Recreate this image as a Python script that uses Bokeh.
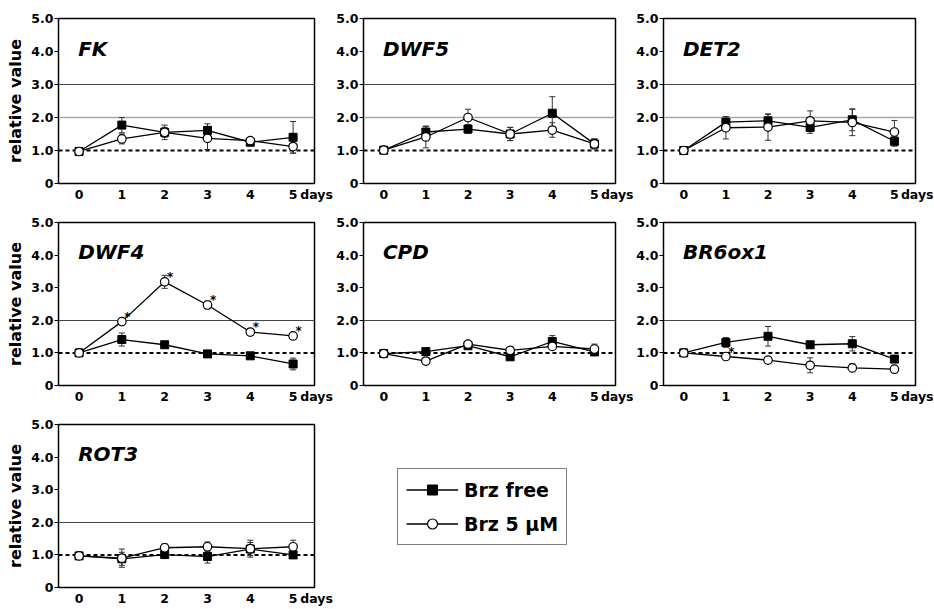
from bokeh.plotting import figure
from bokeh.models import (ColumnDataSource, FixedTicker, Span, Label, Whisker, Range1d,
                          Legend, LegendItem, TeeHead)
from bokeh.layouts import column, row
from bokeh.embed import file_html
from bokeh.resources import INLINE
from bokeh.core.properties import value

# ---------------- data ----------------
days = [0, 1, 2, 3, 4, 5]
x_labels = ["0", "1", "2", "3", "4", "5"]
unit_label = "\u00a0days"
y_ticks = [0, 1, 2, 3, 4, 5]
y_labels = ["0", "1.0", "2.0", "3.0", "4.0", "5.0"]
genes = ["FK", "DWF5", "DET2", "DWF4", "CPD", "BR6ox1", "ROT3"]
series_names = ["Brz free", "Brz 5 μM"]

fk_free = [0.97, 1.77, 1.55, 1.61, 1.25, 1.40]
fk_free_err = [0.03, 0.23, 0.15, 0.20, 0.05, 0.48]
fk_brz = [0.97, 1.35, 1.55, 1.37, 1.30, 1.12]
fk_brz_err = [0.03, 0.15, 0.22, 0.34, 0.05, 0.20]

dwf5_free = [1.01, 1.56, 1.65, 1.50, 2.13, 1.20]
dwf5_free_err = [0.02, 0.17, 0.13, 0.20, 0.50, 0.15]
dwf5_brz = [1.01, 1.41, 2.00, 1.50, 1.62, 1.20]
dwf5_brz_err = [0.02, 0.33, 0.25, 0.20, 0.22, 0.15]

det2_free = [1.00, 1.86, 1.90, 1.70, 1.93, 1.28]
det2_free_err = [0.02, 0.17, 0.20, 0.18, 0.33, 0.15]
det2_brz = [1.00, 1.69, 1.71, 1.90, 1.85, 1.56]
det2_brz_err = [0.02, 0.34, 0.40, 0.30, 0.40, 0.35]

dwf4_free = [1.00, 1.41, 1.25, 0.97, 0.91, 0.66]
dwf4_free_err = [0.02, 0.20, 0.10, 0.10, 0.05, 0.18]
dwf4_brz = [1.00, 1.96, 3.18, 2.47, 1.64, 1.52]
dwf4_brz_err = [0.02, 0.10, 0.20, 0.12, 0.10, 0.05]
dwf4_sig = [0, 1, 1, 1, 1, 1]

cpd_free = [0.98, 1.04, 1.22, 0.88, 1.35, 1.03]
cpd_free_err = [0.02, 0.08, 0.05, 0.06, 0.18, 0.08]
cpd_brz = [0.98, 0.75, 1.27, 1.08, 1.20, 1.12]
cpd_brz_err = [0.02, 0.10, 0.05, 0.05, 0.10, 0.15]

br6_free = [1.00, 1.32, 1.51, 1.25, 1.28, 0.81]
br6_free_err = [0.02, 0.15, 0.30, 0.10, 0.22, 0.08]
br6_brz = [1.00, 0.89, 0.78, 0.62, 0.54, 0.50]
br6_brz_err = [0.02, 0.05, 0.05, 0.23, 0.12, 0.10]
br6_sig = [0, 1, 0, 0, 0, 0]

rot3_free = [0.97, 0.88, 1.01, 0.95, 1.18, 1.00]
rot3_free_err = [0.02, 0.20, 0.05, 0.20, 0.20, 0.10]
rot3_brz = [0.97, 0.90, 1.22, 1.25, 1.19, 1.25]
rot3_brz_err = [0.02, 0.28, 0.12, 0.15, 0.26, 0.20]

no_sig = [0, 0, 0, 0, 0, 0]
# reference lines: (dark levels, light levels)
lines_row1 = ([3], [2])
lines_other = ([2], [])

FONT = "DejaVu Sans"
TICK_FS = "12.5px"
X_START, X_END = -0.48, 5.5


def make_panel(name, free, free_err, brz, brz_err, sig, ref_lines,
               width, height, left, right, top, bottom, ylabel):
    p = figure(width=width, height=height, x_range=Range1d(X_START, X_END),
               y_range=Range1d(0, 5), output_backend="svg", toolbar_location=None,
               min_border_left=left, min_border_right=right,
               min_border_top=top, min_border_bottom=bottom)
    p.background_fill_color = "white"
    p.border_fill_color = "white"
    p.outline_line_color = "black"
    p.outline_line_width = 1.5

    p.xgrid.visible = False
    dark, light = ref_lines
    p.ygrid.ticker = FixedTicker(ticks=dark)
    p.ygrid.grid_line_color = "#444444"
    p.ygrid.grid_line_width = 1
    for lv in light:
        p.add_layout(Span(location=lv, dimension="width", line_color="#a8a8a8",
                          line_width=1.5, level="underlay"))

    # x ticks; the unit word sits at the right end of the axis, after "5"
    p.xaxis.ticker = FixedTicker(ticks=days + [X_END])
    overrides = {d: l for d, l in zip(days, x_labels)}
    overrides[X_END] = unit_label
    p.xaxis.major_label_overrides = overrides
    p.yaxis.ticker = FixedTicker(ticks=y_ticks)
    p.yaxis.major_label_overrides = {t: l for t, l in zip(y_ticks, y_labels)}
    for ax in (p.xaxis, p.yaxis):
        ax.axis_line_color = None
        ax.minor_tick_line_color = None
        ax.major_label_text_font = FONT
        ax.major_label_text_font_style = "bold"
        ax.major_label_text_font_size = TICK_FS
        ax.major_label_text_color = "black"
        ax.major_tick_line_color = "black"
        ax.major_tick_in = 0
    p.xaxis.major_tick_out = 0
    p.xaxis.major_label_standoff = 3
    p.yaxis.major_tick_out = 4
    p.yaxis.major_label_standoff = 1
    if ylabel:
        p.yaxis.axis_label = "relative value"
        p.yaxis.axis_label_text_font = FONT
        p.yaxis.axis_label_text_font_style = "bold"
        p.yaxis.axis_label_text_font_size = "16px"
        p.yaxis.axis_label_text_color = "black"
        p.yaxis.axis_label_standoff = 3

    p.add_layout(Span(location=1.0, dimension="width", line_color="black",
                      line_width=2, line_dash="4 3", level="underlay"))

    src_f = ColumnDataSource(dict(x=days, y=free,
                                  lo=[v - e for v, e in zip(free, free_err)],
                                  up=[v + e for v, e in zip(free, free_err)]))
    src_b = ColumnDataSource(dict(x=days, y=brz,
                                  lo=[v - e for v, e in zip(brz, brz_err)],
                                  up=[v + e for v, e in zip(brz, brz_err)]))
    for src in (src_f, src_b):
        w = Whisker(source=src, base="x", lower="lo", upper="up",
                    line_color="#333333", line_width=1, level="underlay",
                    upper_head=TeeHead(size=6, line_color="#333333", line_width=1),
                    lower_head=TeeHead(size=6, line_color="#333333", line_width=1))
        p.add_layout(w)

    p.line("x", "y", source=src_f, line_color="black", line_width=1.3)
    p.line("x", "y", source=src_b, line_color="black", line_width=1.3)
    p.scatter("x", "y", source=src_f, marker="square", size=8,
              fill_color="black", line_color="black")
    p.scatter("x", "y", source=src_b, marker="circle", size=8.5,
              fill_color="white", line_color="black", line_width=1.2)

    sx = [d + 0.13 for d, s in zip(days, sig) if s]
    sy = [v + 0.15 for v, s in zip(brz, sig) if s]
    if sx:
        p.text(x=sx, y=sy, text=["*"] * len(sx), text_font=value(FONT),
               text_font_style="bold", text_font_size="12px",
               text_align="center", text_baseline="middle", text_color="black")

    p.add_layout(Label(x=-0.02, y=4.08, text=name, text_font=FONT,
                       text_font_style="bold italic", text_font_size="20px",
                       text_baseline="middle", text_align="left",
                       text_color="black"))
    return p


# column geometry: (width, left, right)
C1 = (333, 58, 19)
C2 = (300, 27, 18)
C3 = (300, 27, 18)
# row geometry: (height, top, bottom)
R1 = (204, 18, 20)
R2 = (202, 18, 18)
R3 = (202, 18, 18)


def panel(name, f, fe, b, be, sig, lines, col, rw, ylabel):
    return make_panel(name, f, fe, b, be, sig, lines, col[0], rw[0],
                      col[1], col[2], rw[1], rw[2], ylabel)


p_fk = panel(genes[0], fk_free, fk_free_err, fk_brz, fk_brz_err, no_sig, lines_row1, C1, R1, True)
p_dwf5 = panel(genes[1], dwf5_free, dwf5_free_err, dwf5_brz, dwf5_brz_err, no_sig, lines_row1, C2, R1, False)
p_det2 = panel(genes[2], det2_free, det2_free_err, det2_brz, det2_brz_err, no_sig, lines_row1, C3, R1, False)
p_dwf4 = panel(genes[3], dwf4_free, dwf4_free_err, dwf4_brz, dwf4_brz_err, dwf4_sig, lines_other, C1, R2, True)
p_cpd = panel(genes[4], cpd_free, cpd_free_err, cpd_brz, cpd_brz_err, no_sig, lines_other, C2, R2, False)
p_br6 = panel(genes[5], br6_free, br6_free_err, br6_brz, br6_brz_err, br6_sig, lines_other, C3, R2, False)
p_rot3 = panel(genes[6], rot3_free, rot3_free_err, rot3_brz, rot3_brz_err, no_sig, lines_other, C1, R3, True)

# legend panel: its renderers carry the ROT3 series but the view range is
# placed away from them, so only the legend samples are shown
leg = figure(width=C2[0] + C3[0], height=R3[0], x_range=Range1d(-20, -19),
             y_range=Range1d(0, 5), output_backend="svg", toolbar_location=None,
             x_axis_type=None, y_axis_type=None, min_border=0)
leg.outline_line_color = None
leg.grid.visible = False
leg_src_f = ColumnDataSource(dict(x=days, y=rot3_free))
leg_src_b = ColumnDataSource(dict(x=days, y=rot3_brz))
l1 = leg.line("x", "y", source=leg_src_f, line_color="black", line_width=1.3)
m1 = leg.scatter("x", "y", source=leg_src_f, marker="square", size=8,
                 fill_color="black", line_color="black")
l2 = leg.line("x", "y", source=leg_src_b, line_color="black", line_width=1.3)
m2 = leg.scatter("x", "y", source=leg_src_b, marker="circle", size=8.5,
                 fill_color="white", line_color="black", line_width=1.2)
legend = Legend(items=[LegendItem(label=series_names[0], renderers=[l1, m1]),
                       LegendItem(label=series_names[1], renderers=[l2, m2])],
                location=(64, 42))
legend.border_line_color = "black"
legend.border_line_width = 1
legend.padding = 8
legend.spacing = 9
legend.margin = 0
legend.glyph_width = 52
legend.glyph_height = 25
legend.label_height = 25
legend.label_standoff = 6
legend.label_text_font = FONT
legend.label_text_font_style = "bold"
legend.label_text_font_size = "19px"
legend.label_text_color = "black"
leg.add_layout(legend)

layout = column(row(p_fk, p_dwf5, p_det2),
                row(p_dwf4, p_cpd, p_br6),
                row(p_rot3, leg))

open("out.html", "w").write(file_html(layout, INLINE))
